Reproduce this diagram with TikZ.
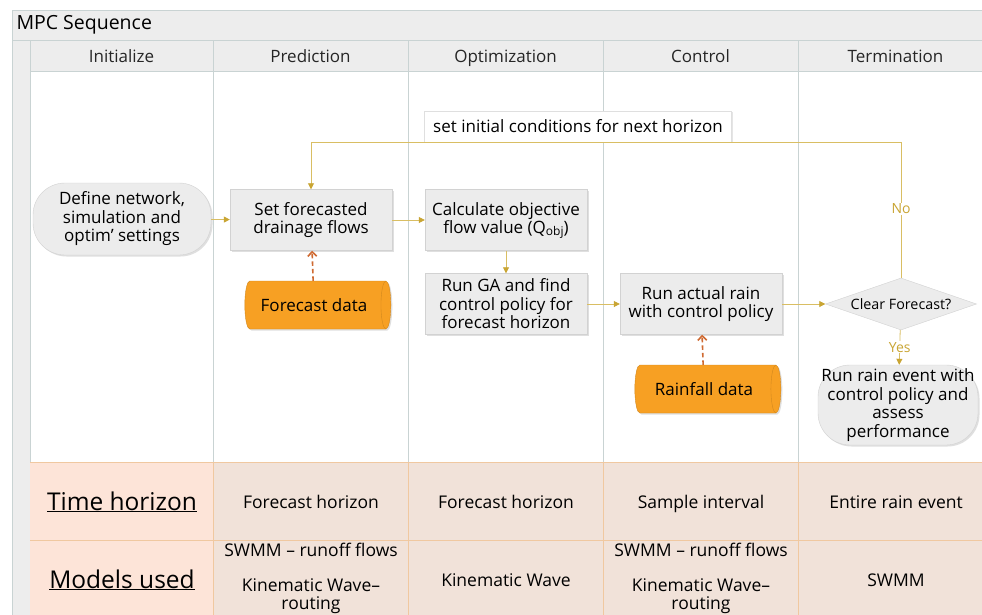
\documentclass[tikz,border=0pt]{standalone}
\usepackage{fontspec}
\setmainfont{Open Sans}
\usetikzlibrary{shapes.geometric,shadows,arrows.meta}

\definecolor{lanegray}{HTML}{C9D3D3}
\definecolor{headfill}{HTML}{EDEDED}
\definecolor{boxfill}{HTML}{ECECEC}
\definecolor{boxline}{HTML}{D2D2D2}
\definecolor{flowline}{HTML}{D9BE63}
\definecolor{flowtip}{HTML}{C9A533}
\definecolor{datafill}{HTML}{F7A023}
\definecolor{dataline}{HTML}{CF6A32}
\definecolor{tabfill}{HTML}{F1E2D9}
\definecolor{tabfirst}{HTML}{FDE4D8}
\definecolor{tabline}{HTML}{F0C8A0}

\tikzset{
  lanehead/.style={font=\fontsize{17}{19}\selectfont, text=black!85,
    text height=12pt, text depth=4pt},
  procbox/.style={rectangle, fill=boxfill, draw=boxline, minimum width=162pt,
    minimum height=61pt, align=center, inner sep=1pt,
    font=\fontsize{17}{18.5}\selectfont,
    drop shadow={shadow xshift=1.5pt, shadow yshift=-1.5pt, opacity=.25}},
  termbox/.style={rectangle, rounded corners=32pt, fill=boxfill, draw=boxline,
    align=center, inner sep=1pt, font=\fontsize{17}{18.5}\selectfont,
    drop shadow={shadow xshift=1.5pt, shadow yshift=-1.5pt, opacity=.25}},
  databox/.style={cylinder, shape aspect=.5, fill=datafill, draw=datafill!85!black,
    minimum height=146pt, minimum width=48pt, font=\fontsize{17}{19}\selectfont,
    drop shadow={shadow xshift=1.5pt, shadow yshift=-1.5pt, opacity=.25}},
  decbox/.style={diamond, fill=boxfill, draw=boxline, aspect=2.9, inner sep=0pt,
    minimum width=151pt, minimum height=52pt, font=\fontsize{14.3}{16}\selectfont},
  flow/.style={draw=flowline, line width=.8pt, -{Triangle[length=6pt,width=6pt,color=flowtip]}},
  dataflow/.style={draw=dataline, line width=1.6pt, dash pattern=on 4.5pt off 3pt,
    -{Straight Barb[length=4.5pt,width=9pt]}},
  flowlabel/.style={fill=white, inner sep=1pt, text=flowtip, font=\fontsize{14}{16}\selectfont},
  tabtext/.style={align=center, font=\fontsize{17.5}{17.5}\selectfont, inner sep=0pt},
  tabcell/.style={tabtext, text height=12pt, text depth=4pt},
  rowhead/.style={font=\fontsize{24.5}{28}\selectfont, text height=17pt, text depth=5pt}
}

\begin{document}
\begin{tikzpicture}[x=1pt,y=-1pt]
\useasboundingbox (0,0) rectangle (982,615);
\fill[white] (0,0) rectangle (982,615);

% Pool header and lanes
\filldraw[fill=headfill, draw=lanegray] (12,10) rectangle (1000,40);
\node[anchor=west, font=\fontsize{19.5}{22}\selectfont] (pool) at (13,24.5) {MPC Sequence};
\filldraw[fill=headfill, draw=lanegray] (12,40) rectangle (30,640);
\foreach \l/\r/\name [count=\i] in {30/213/Initialize, 213/408/Prediction,
    408/603/Optimization, 603/798/Control, 798/993/Termination} {
  \filldraw[fill=headfill, draw=lanegray] (\l,40) rectangle (\r,71);
  \node[lanehead] (head\i) at ({(\l+\r)/2},58.5) {\name};
  \draw[lanegray] (\l,71) -- (\l,462);
}

% Table at the bottom
\fill[tabfirst] (30,462) rectangle (213,640);
\fill[tabfill] (213,462) rectangle (1000,640);
\draw[tabline] (30,462) -- (1000,462);
\draw[tabline] (30,540) -- (1000,540);
\foreach \x in {213,408,603,798}
  \draw[tabline] (\x,462) -- (\x,640);

% Flow nodes
\node[termbox, minimum width=178pt, minimum height=72pt] (define) at (122,219)
  {Define network,\\simulation and\\optim’ settings};
\node[procbox] (setflow) at (311,220) {Set forecasted\\drainage flows};
\node[databox] (fcdata) at (314,305) {Forecast data};
\node[procbox] (calc) at (506,220) {Calculate objective\\flow value (Q\raisebox{-1.5pt}{\fontsize{12}{12}\selectfont obj})};
\node[procbox] (runga) at (506,304) {Run GA and find\\control policy for\\forecast horizon};
\node[procbox] (runrain) at (701,304) {Run actual rain\\with control policy};
\node[databox] (rfdata) at (704,389) {Rainfall data};
\node[decbox] (clear) at (901,304) {Clear Forecast?};
\node[termbox, minimum width=160pt, minimum height=80pt] (final) at (898,405)
  {Run rain event with\\control policy and\\assess\\performance};
\node[rectangle, fill=white, draw=boxline!70, minimum width=307pt, minimum height=31pt,
  font=\fontsize{17}{19}\selectfont,
  drop shadow={shadow xshift=1pt, shadow yshift=-1pt, opacity=.2}] (nexthz) at (578,126.5)
  {set initial conditions for next horizon};

% Connectors
\draw[flow] (define) -- (setflow);
\draw[flow] (setflow) -- (calc);
\draw[flow] (calc) -- (runga);
\draw[flow] (runga) -- (runrain);
\draw[flow] (runrain) -- (clear);
\draw[flow] (clear.north) |- (nexthz.south) -| (setflow.north);
\node[flowlabel] (nolabel) at (901,209) {No};
\draw[flow] (clear) -- node[flowlabel] (yeslabel) {Yes} (final);
\draw[dataflow] (fcdata) -- (setflow);
\draw[dataflow] (rfdata) -- (runrain);

% Table text
\node[rowhead] (timehd) at (122,504) {\underline{Time horizon}};
\node[rowhead] (modelhd) at (122,582) {\underline{Models used}};
\node[tabcell] (time2) at (311,504) {Forecast horizon};
\node[tabcell] (time3) at (506,504) {Forecast horizon};
\node[tabcell] (time4) at (701,504) {Sample interval};
\node[tabcell] (time5) at (896,504) {Entire rain event};
\node[tabtext, anchor=south] (model2) at (311,613.5) {SWMM – runoff flows\\ \\Kinematic Wave–\\routing};
\node[tabcell] (model3) at (506,582) {Kinematic Wave};
\node[tabtext, anchor=south] (model4) at (701,613.5) {SWMM – runoff flows\\ \\Kinematic Wave–\\routing};
\node[tabcell] (model5) at (896,582) {SWMM};
\end{tikzpicture}
\end{document}
